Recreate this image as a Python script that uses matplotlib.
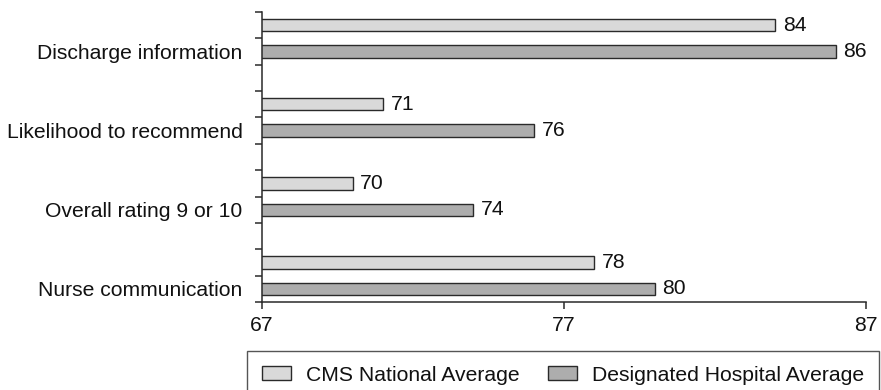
import matplotlib
matplotlib.use("Agg")
import matplotlib.pyplot as plt
import numpy as np

plt.rcParams["font.family"] = ["Liberation Sans", "DejaVu Sans"]

categories = ["Discharge information", "Likelihood to recommend",
              "Overall rating 9 or 10", "Nurse communication"]
cms_national = [84, 71, 70, 78]
hospital_avg = [86, 76, 74, 80]
series_names = ["CMS National Average", "Designated Hospital Average"]
x_ticks = [67, 77, 87]

cms_color = "#d9d9d9"
hosp_color = "#adadad"
edge = "#2a2a2a"
fs = 15.2

fig = plt.figure(figsize=(8.81, 3.90), dpi=100)
ax = fig.add_axes([262 / 881, 1 - 302 / 390, (866 - 262) / 881, (302 - 12) / 390])

# three slots per category: national bar, hospital bar, spacer
slot = np.arange(len(categories)) * 3
y_cms = slot + 0.5
y_hosp = slot + 1.5
h = 0.47

b1 = ax.barh(y_cms, cms_national, height=h, left=0, color=cms_color,
             edgecolor=edge, linewidth=1.0, label=series_names[0])
b2 = ax.barh(y_hosp, hospital_avg, height=h, left=0, color=hosp_color,
             edgecolor=edge, linewidth=1.0, label=series_names[1])
ax.bar_label(b1, labels=[str(v) for v in cms_national], padding=5.5,
             fontsize=fs, color="#111111")
ax.bar_label(b2, labels=[str(v) for v in hospital_avg], padding=5.5,
             fontsize=fs, color="#111111")

ax.set_xlim(x_ticks[0], x_ticks[-1])
ax.set_ylim(11, 0)

ax.set_xticks(x_ticks)
ax.set_xticklabels([str(t) for t in x_ticks], fontsize=fs, color="#111111")
ax.tick_params(axis="x", direction="out", length=5, width=1.1, color=edge, pad=5)

ax.set_yticks(y_hosp)
ax.set_yticklabels(categories, fontsize=fs, color="#111111")
ax.set_yticks(np.arange(0, 12), minor=True)
ax.tick_params(axis="y", which="major", length=0, pad=14)
ax.tick_params(axis="y", which="minor", direction="out", length=5, width=1.1, color=edge)

for s in ("top", "right"):
    ax.spines[s].set_visible(False)
for s in ("left", "bottom"):
    ax.spines[s].set_color(edge)
    ax.spines[s].set_linewidth(1.1)

leg = fig.legend(handles=[b1, b2], labels=series_names, ncol=2,
                 loc="upper left",
                 bbox_to_anchor=(247 / 881, 1 - 351 / 390, (879 - 247) / 881, 0.0),
                 mode="expand", fontsize=fs, frameon=True, fancybox=False,
                 borderpad=0.7, handlelength=1.37, handleheight=0.66,
                 handletextpad=0.71, columnspacing=2.0, borderaxespad=0)
leg.get_frame().set_edgecolor(edge)
leg.get_frame().set_linewidth(1.0)
for t in leg.get_texts():
    t.set_color("#111111")

fig.savefig("out.png", dpi=100)
